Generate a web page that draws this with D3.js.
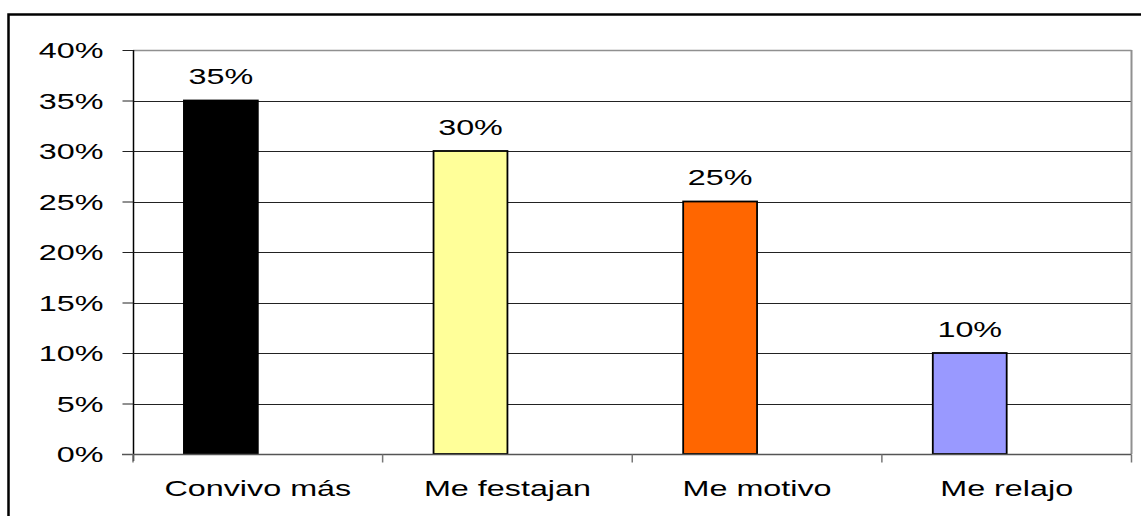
<!DOCTYPE html>
<html>
<head>
<meta charset="utf-8">
<script src="https://cdn.jsdelivr.net/npm/d3@7"></script>
<style>
  html, body { margin: 0; padding: 0; background: #fff; }
  svg { display: block; }
  text { font-family: "Liberation Sans", Arial, sans-serif; fill: #000; }
</style>
</head>
<body>
<svg id="chart" width="1141" height="516"></svg>
<script>
const categories = ["Convivo más", "Me festajan", "Me motivo", "Me relajo"];
const values = [0.35, 0.30, 0.25, 0.10];
const colors = ["#000000", "#FFFF99", "#FF6600", "#9999FF"];
const yTicks = [0, 0.05, 0.10, 0.15, 0.20, 0.25, 0.30, 0.35, 0.40];

(function () {
const svg = d3.select("#chart");
const pLeft = 133, pRight = 1131.5, pTop = 50, pBottom = 454;
const fontSize = 22, sx = 1.47;
const fmt = d3.format(".0%");

// outer frame
svg.append("rect").attr("x", 8.5).attr("y", 14.5).attr("width", 1145).attr("height", 520)
  .attr("fill", "none").attr("stroke", "#000").attr("stroke-width", 2.5);

const x = d3.scaleBand().domain(categories).range([pLeft, pRight]).padding(0);
const y = d3.scaleLinear().domain([0, 0.40]).range([pBottom, pTop]);

// gridlines
svg.append("g").selectAll("line").data(yTicks.filter(d => d > 0 && d < 0.40)).join("line")
  .attr("x1", pLeft).attr("x2", pRight)
  .attr("y1", d => Math.round(y(d)) + 0.5).attr("y2", d => Math.round(y(d)) + 0.5)
  .attr("stroke", "#222").attr("stroke-width", 1);

// plot border (top and right) gray
svg.append("line").attr("x1", pLeft).attr("x2", pRight).attr("y1", pTop + 0.5).attr("y2", pTop + 0.5)
  .attr("stroke", "#909090").attr("stroke-width", 1.5);
svg.append("line").attr("x1", pRight).attr("x2", pRight).attr("y1", pTop).attr("y2", pBottom)
  .attr("stroke", "#909090").attr("stroke-width", 2);

// bars
const bw = x.bandwidth() * 0.296;
svg.append("g").selectAll("rect").data(categories).join("rect")
  .attr("x", (d) => x(d) + x.bandwidth() / 2 - bw)
  .attr("y", (d, i) => y(values[i]))
  .attr("width", bw)
  .attr("height", (d, i) => y(0) - y(values[i]))
  .attr("fill", (d, i) => colors[i])
  .attr("stroke", "#000").attr("stroke-width", 1.8);

// value labels
svg.append("g").selectAll("text").data(categories).join("text")
  .attr("transform", (d, i) => `translate(${x(d) + x.bandwidth() / 2 - bw / 2},${y(values[i]) - 16.5}) scale(${sx},1)`)
  .attr("text-anchor", "middle")
  .attr("font-size", fontSize)
  .text((d, i) => fmt(values[i]));

// y axis
const yAxis = d3.axisLeft(y).tickValues(yTicks).tickFormat(fmt).tickSize(11).tickPadding(0);
const gy = svg.append("g").attr("transform", `translate(${pLeft + 0.5},0)`).call(yAxis);
gy.select(".domain").attr("stroke", "#000").attr("stroke-width", 1.5).attr("d", `M0,${pTop}V${pBottom + 7}`);
gy.selectAll(".tick line").attr("stroke", "#222");
gy.selectAll(".tick text")
  .attr("x", null).attr("dy", null).attr("y", null)
  .attr("transform", `translate(-30,7.5) scale(${sx},1)`)
  .attr("text-anchor", "end")
  .attr("font-size", fontSize)
  .attr("font-family", "Liberation Sans, Arial, sans-serif")
  .attr("fill", "#000");

// x axis
const gx = svg.append("g").attr("transform", `translate(0,${pBottom + 0.5})`);
gx.append("line").attr("x1", pLeft - 11).attr("x2", pRight).attr("y1", 0).attr("y2", 0)
  .attr("stroke", "#555").attr("stroke-width", 1.5);
const bounds = categories.map(c => x(c)).concat([x(categories[categories.length - 1]) + x.bandwidth()]);
gx.selectAll("line.tk").data(bounds).join("line").attr("class", "tk")
  .attr("x1", d => d).attr("x2", d => d).attr("y1", 0).attr("y2", 8)
  .attr("stroke", "#777").attr("stroke-width", 1.5);
gx.selectAll("text").data(categories).join("text")
  .attr("transform", d => `translate(${x(d) + x.bandwidth() / 2},${495 - pBottom}) scale(${sx},1)`)
  .attr("text-anchor", "middle")
  .attr("font-size", fontSize)
  .text(d => d);
})();
</script>
</body>
</html>
